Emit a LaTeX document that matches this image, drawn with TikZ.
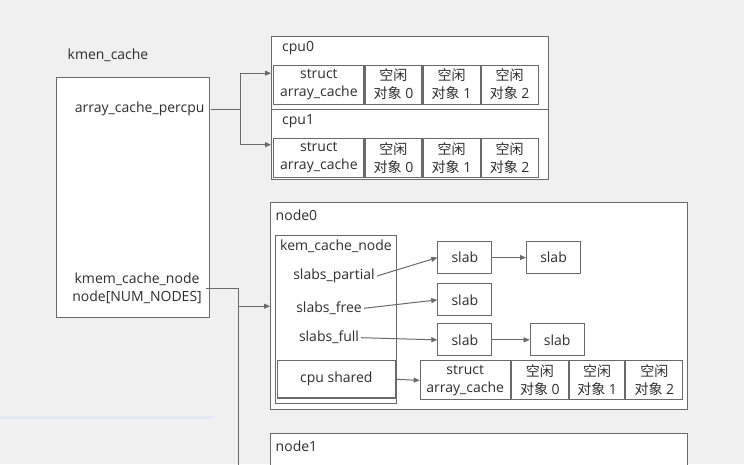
\documentclass[tikz,border=0pt]{standalone}
\usepackage{fontspec}
\setmainfont{Open Sans}
\newfontfamily\cjk{Noto Sans CJK SC}
\usetikzlibrary{arrows.meta,positioning}
\definecolor{bgc}{HTML}{F0F0F0}
\definecolor{linec}{HTML}{6A6A6A}
\definecolor{txtc}{HTML}{2E2E2E}
\definecolor{bandc}{HTML}{E3E8F2}
\tikzset{
    box/.style={draw=linec, fill=white, line width=1.1pt, inner sep=0pt, anchor=north west},
    cell/.style={box, minimum height=39pt, align=center, font=\fontsize{14}{18}\selectfont},
    lbl/.style={text=txtc, inner sep=2pt, font=\fontsize{14}{18}\selectfont},
    arr/.style={draw=linec, line width=1pt, -{Triangle[length=6pt,width=5pt]}},
    wire/.style={draw=linec, line width=1pt}
}
\newcommand{\cacherow}[4]{%
    \node[cell, minimum width=90pt] (#1a) at (#2,#3) {struct\\array\_cache};
    \node[cell, minimum width=57pt] (#1b) at (#1a.north east) {{\cjk 空闲}\\{\cjk 对象} 0};
    \node[cell, minimum width=#4] (#1c) at (#1b.north east) {{\cjk 空闲}\\{\cjk 对象} 1};
    \node[cell, minimum width=57pt] (#1d) at (#1c.north east) {{\cjk 空闲}\\{\cjk 对象} 2};
}
\begin{document}
\begin{tikzpicture}[x=1pt, y=-1pt, text=txtc]
    \fill[bgc] (0,0) rectangle (744,464);
    \useasboundingbox (0,0) rectangle (744,464);
    \clip (0,0) rectangle (744,464);
    \fill[bandc] (0,415.5) rectangle (213,418.5);

    \node[lbl] (kmentitle) at (108,55.7) {kmen\_cache};
    \node[box, minimum width=153pt, minimum height=240pt] (kmen) at (56,77.3) {};
    \node[lbl, anchor=east, inner xsep=6pt] (percpu) at (210.7,109.3) {array\_cache\_percpu};
    \node[lbl, anchor=east, inner xsep=4pt, align=center] (kmemnode) at (206,288) {kmem\_cache\_node\\node[NUM\_NODES]};

    \node[box, minimum width=277pt, minimum height=73.3pt] (cpu0box) at (271,36) {};
    \node[box, minimum width=277pt, minimum height=69.7pt] (cpu1box) at (271,109.3) {};
    \node[lbl, anchor=west] (cpu0lbl) at (280,48.3) {cpu0};
    \node[lbl, anchor=west] (cpu1lbl) at (280,120.7) {cpu1};
    \cacherow{cz}{273.3}{64.5}{57pt}
    \cacherow{co}{273.3}{137.7}{57pt}

    \coordinate (fork) at (240.5,109.3);
    \draw[wire] (percpu.east) -- (fork);
    \draw[arr] (fork) |- (cpu0box.west);
    \draw[arr] (fork) |- (cpu1box.west);

    \node[box, minimum width=416.5pt, minimum height=206.7pt] (node0) at (270,202.3) {};
    \node[lbl, anchor=west] (node0lbl) at (273.5,215.7) {node0};
    \node[box, minimum width=121.3pt, minimum height=168.3pt] (kcn) at (275,235) {};
    \node[lbl] (kcnlbl) at (336,246.7) {kem\_cache\_node};
    \node[lbl] (partial) at (334,276) {slabs\_partial};
    \node[lbl] (free) at (329,308.3) {slabs\_free};
    \node[lbl] (full) at (329,337.7) {slabs\_full};
    \node[box, line width=1.4pt, minimum width=118pt, minimum height=37.3pt] (cpushared) at (276.6,360) {};
    \node[lbl] (cpusharedlbl) at (cpushared.center) {cpu shared};

    \node[cell, minimum width=54pt, minimum height=32pt] (slaba) at (437.3,241) {slab};
    \node[cell, minimum width=54pt, minimum height=32pt] (slabb) at (526,241) {slab};
    \node[cell, minimum width=54pt, minimum height=32pt] (slabc) at (437.3,283.3) {slab};
    \node[cell, minimum width=54pt, minimum height=32pt] (slabd) at (437.3,323.3) {slab};
    \node[cell, minimum width=54pt, minimum height=32pt] (slabe) at (529.7,323.3) {slab};
    \cacherow{sh}{419.7}{360.3}{55.3pt}

    \draw[arr] (partial.east) -- (slaba.west);
    \draw[arr] (free.east) -- (slabc.west);
    \draw[arr] (full.east) -- (slabd.west);
    \draw[arr] (slaba.east) -- (slabb.west);
    \draw[arr] (slabd.east) -- (slabe.west);
    \draw[arr] (cpushared.east) -- (sha.west);

    \node[box, minimum width=416.5pt, minimum height=60pt] (node1) at (270,433) {};
    \node[lbl, anchor=west] (node1lbl) at (273.5,446) {node1};

    \coordinate (nodedown) at (238,470);
    \draw[wire] (kmemnode.east) -| (nodedown);
    \draw[arr] (nodedown |- node0.west) -- (node0.west);
\end{tikzpicture}
\end{document}
